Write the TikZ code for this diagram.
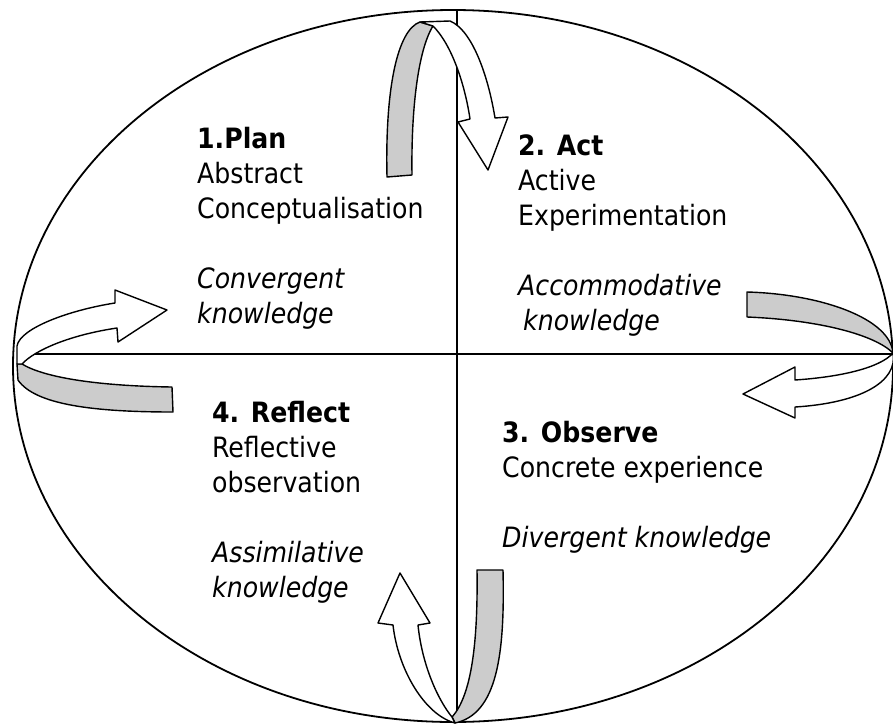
\documentclass[tikz,border=0pt]{standalone}
\usepackage{fontspec}
\setmainfont{DejaVu Sans Condensed}
\definecolor{ribbongrey}{HTML}{CCCCCC}
\begin{document}
\begin{tikzpicture}[x=1pt,y=-1pt,line join=round,
  band/.style={draw=black,line width=1.4pt,line join=round},
  backside/.style={band,fill=ribbongrey},
  frontside/.style={band,fill=white},
  axis/.style={draw=black,line width=1.2pt},
  txt/.style={anchor=base west,align=left,inner sep=0pt,font=\fontsize{28}{35}\selectfont}]
\useasboundingbox (0,0) rectangle (893,725);
% ellipse and axes
\draw[line width=1.8pt] (453,366) ellipse [x radius=440, y radius=356];
\coordinate (L) at (20,354);
\coordinate (R) at (893,354);
\coordinate (T) at (457,10);
\coordinate (B) at (457,722);
\draw[axis] (L) -- (R);
\draw[axis] (T) -- (B);
% top arrow
\draw[backside] (387,177) .. controls (385,90) and (397,30) .. (420,22) -- (433,26)
   .. controls (418,50) and (411,110) .. (412,175) -- cycle;
\draw[frontside] (420,22) -- (450,21) .. controls (472,30) and (488,75) .. (495,118)
   -- (508,117) -- (488,170) -- (458,122) -- (470,119)
   .. controls (465,85) and (452,45) .. (433,26) -- cycle;
% left arrow
\draw[backside] (17,364) -- (22,364) .. controls (45,378) and (100,386) .. (172,387)
   -- (173,412) .. controls (95,412) and (35,405) .. (18,380) -- cycle;
\draw[frontside] (17,346) .. controls (20,328) and (70,310) .. (115,303)
   -- (115,290) -- (167,310) -- (118,342) -- (117,328)
   .. controls (70,335) and (35,350) .. (22,364) -- (17,364) -- cycle;
% right arrow
\draw[backside] (747,292) .. controls (820,294) and (890,318) .. (893,353)
   .. controls (875,335) and (820,320) .. (747,317) -- cycle;
\draw[frontside] (893,353) .. controls (898,382) and (860,403) .. (795,407)
   -- (795,418) -- (743,394) -- (795,367) -- (795,380)
   .. controls (840,377) and (880,368) .. (893,353) -- cycle;
% bottom arrow
\draw[backside] (477,570) -- (503,570) .. controls (505,655) and (497,714) .. (455,723)
   -- (452,717) .. controls (472,695) and (478,640) .. (477,570) -- cycle;
\draw[frontside] (393,625) -- (378,623) -- (400,573) -- (430,623) -- (418,625)
   .. controls (422,665) and (438,700) .. (452,717) -- (455,723)
   .. controls (425,715) and (398,670) .. (393,625) -- cycle;
% texts (anchored at the baseline of the last line)
\node[txt] (plan) at (197,323) {\textbf{1.Plan}\\Abstract\\Conceptualisation\\[35pt]\textit{Convergent}\\\textit{knowledge}};
\node[txt] (act) at (518,330) {\textbf{2. Act}\\Active\\Experimentation\\[35pt]\textit{Accommodative}\\\textit{\hspace{5pt}knowledge}};
\node[txt] (observe) at (502,547) {\textbf{3. Observe}\\Concrete experience\\[35pt]\textit{Divergent knowledge}};
\node[txt] (reflect) at (212,597) {\textbf{4. Reflect}\\Reflective\\observation\\[35pt]\textit{Assimilative}\\\textit{knowledge}};
\end{tikzpicture}
\end{document}
